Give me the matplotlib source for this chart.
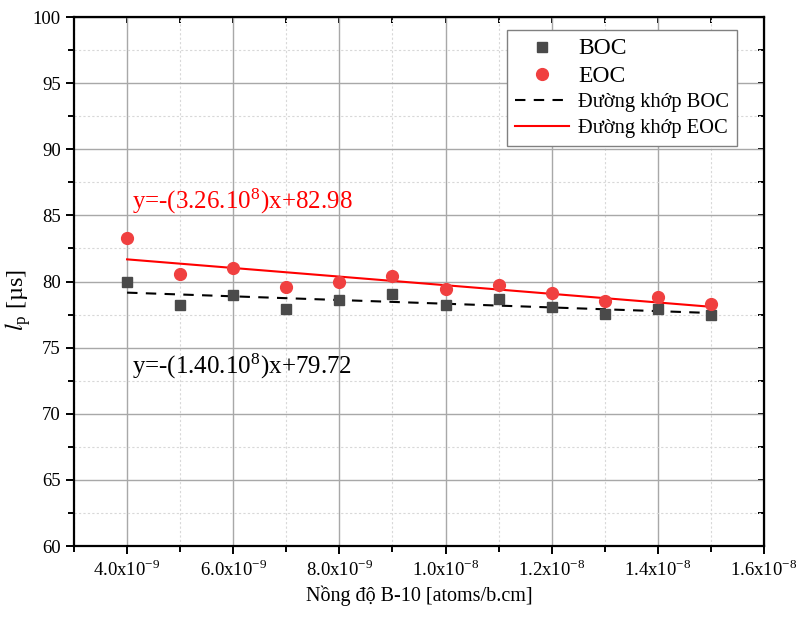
import matplotlib
matplotlib.use("Agg")
import matplotlib.pyplot as plt
import numpy as np
from matplotlib.ticker import MultipleLocator, FixedLocator

plt.rcParams['font.family'] = ['Liberation Serif', 'DejaVu Serif']
plt.rcParams['mathtext.fontset'] = 'stix'

# Data
conc = [4e-9, 5e-9, 6e-9, 7e-9, 8e-9, 9e-9, 1.0e-8, 1.1e-8, 1.2e-8, 1.3e-8, 1.4e-8, 1.5e-8]
boc = [80.0, 78.25, 79.0, 77.9, 78.6, 79.05, 78.25, 78.7, 78.05, 77.55, 77.95, 77.5]
eoc = [83.3, 80.6, 81.0, 79.6, 80.0, 80.4, 79.45, 79.75, 79.1, 78.5, 78.8, 78.3]

# linear fits (slope, intercept)
fit_boc = (-1.40e8, 79.72)
fit_eoc = (-3.26e8, 82.98)

xtick_vals = [4e-9, 6e-9, 8e-9, 1.0e-8, 1.2e-8, 1.4e-8, 1.6e-8]
xtick_labels = [r'4.0x10$^{\mathregular{-9}}$', r'6.0x10$^{\mathregular{-9}}$',
                r'8.0x10$^{\mathregular{-9}}$', r'1.0x10$^{\mathregular{-8}}$',
                r'1.2x10$^{\mathregular{-8}}$', r'1.4x10$^{\mathregular{-8}}$',
                r'1.6x10$^{\mathregular{-8}}$']

fig = plt.figure(figsize=(8.01, 6.19), dpi=100)
ax = fig.add_axes([0.0924, 0.1179, 0.8614, 0.8546])

x = np.array(conc)
xf = np.array([conc[0], conc[-1]])

ax.plot(x, boc, 's', color='#4a4a4a', markersize=7.5, label='BOC', zorder=3)
ax.plot(x, eoc, 'o', color='#f04040', markersize=8.5, label='EOC', zorder=3)
ax.plot(xf, fit_boc[0] * xf + fit_boc[1], '--', color='black', lw=1.5,
        dashes=(5, 4), label='Đường khớp BOC', zorder=2)
ax.plot(xf, fit_eoc[0] * xf + fit_eoc[1], '-', color='red', lw=1.5,
        label='Đường khớp EOC', zorder=2)

ax.set_xlim(3e-9, 1.6e-8)
ax.set_ylim(60, 100)

ax.xaxis.set_major_locator(FixedLocator(xtick_vals))
ax.set_xticklabels(xtick_labels)
ax.xaxis.set_minor_locator(MultipleLocator(1e-9))
ax.yaxis.set_major_locator(MultipleLocator(5))
ax.yaxis.set_minor_locator(MultipleLocator(2.5))

ax.grid(which='major', color='#a8a8a8', lw=1.0, ls='-')
ax.grid(which='minor', color='#d8d8d8', lw=0.8, ls=(0, (2, 2)))
ax.set_axisbelow(True)

for s in ax.spines.values():
    s.set_linewidth(1.6)

ax.tick_params(which='both', direction='out', labelsize=13.5, width=1.4)
ax.tick_params(which='major', length=6)
ax.tick_params(which='minor', length=4)

# inward ticks on top and right
axt = ax.secondary_xaxis('top')
axt.xaxis.set_major_locator(FixedLocator(xtick_vals))
axt.xaxis.set_minor_locator(MultipleLocator(1e-9))
axt.tick_params(which='both', direction='in', length=4, width=1.4, labeltop=False)
axr = ax.secondary_yaxis('right')
axr.yaxis.set_major_locator(MultipleLocator(5))
axr.yaxis.set_minor_locator(MultipleLocator(2.5))
axr.tick_params(which='both', direction='in', length=4, width=1.4, labelright=False)

ax.set_xlabel('Nồng độ B-10 [atoms/b.cm]', fontsize=14.5)
ax.set_ylabel(r'$\mathit{l}_{\mathregular{p}}$ [µs]', fontsize=17.5)
ax.yaxis.set_label_coords(-0.059, 0.465)

ax.text(4.1e-9, 86.1, r'y=-(3.26.10$^{\mathregular{8}}$)x+82.98', color='red',
        fontsize=18, va='center', ha='left')
ax.text(4.1e-9, 73.6, r'y=-(1.40.10$^{\mathregular{8}}$)x+79.72', color='black',
        fontsize=18, va='center', ha='left')

leg = ax.legend(loc='upper right', bbox_to_anchor=(0.961, 0.975), borderaxespad=0,
                fancybox=False, edgecolor='#808080', framealpha=1, fontsize=14.8,
                handlelength=2.6, handletextpad=0.45, labelspacing=0.3,
                borderpad=0.4)
leg.get_frame().set_linewidth(1.0)
for t in leg.get_texts()[:2]:
    t.set_fontsize(17)

fig.savefig('out.png', dpi=100)
